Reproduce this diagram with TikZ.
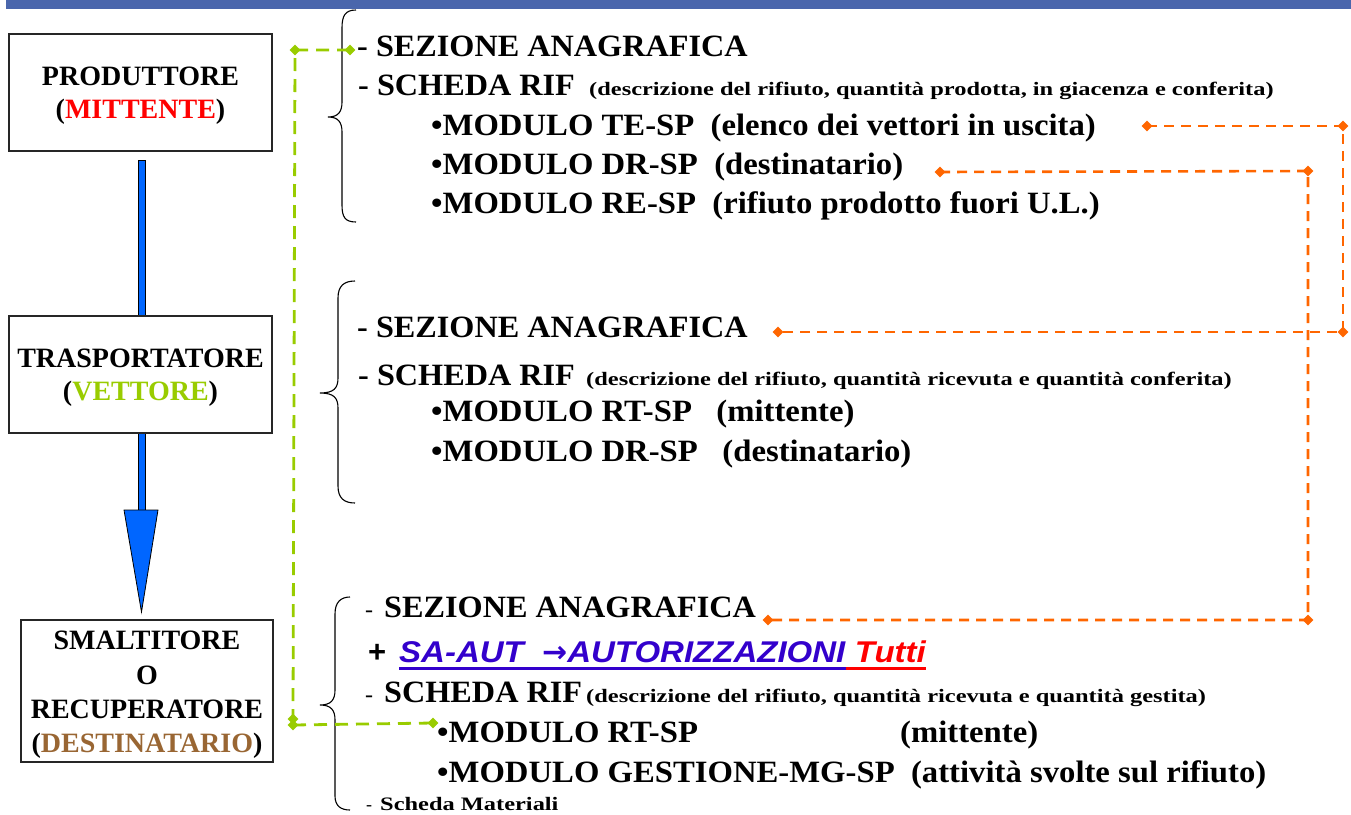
\documentclass[tikz,border=0pt]{standalone}
\usepackage{fontspec}
\setmainfont{Liberation Serif}
\setsansfont{Liberation Sans}
\newfontfamily\bigf[FakeStretch=1.04]{Liberation Serif}
\newfontfamily\midf[FakeStretch=1.055]{Liberation Serif}
\newfontfamily\smallf[FakeStretch=1.285]{Liberation Serif}
\newfontfamily\saf[FakeStretch=1.10]{Liberation Sans}
\newfontfamily\arrf{DejaVu Sans}
\usetikzlibrary{shapes.geometric,calc}
\definecolor{barblue}{HTML}{4A66AC}
\definecolor{arrblue}{HTML}{0066FF}
\definecolor{vgreen}{HTML}{99CC00}
\definecolor{dbrown}{HTML}{996633}
\definecolor{orng}{HTML}{FF6600}
\definecolor{sablue}{HTML}{3300CC}
\begin{document}
\begin{tikzpicture}[x=1pt,y=-1pt,
  actor/.style={draw=black!85,line width=1.3pt,fill=white,inner sep=0pt},
  actortext/.style={align=center,inner sep=0pt,font=\bfseries\fontsize{28}{33}\selectfont},
  big/.style={anchor=base west,inner sep=0pt,font=\bigf\bfseries\fontsize{31}{36}\selectfont},
  mid/.style={anchor=base west,inner sep=0pt,font=\midf\bfseries\fontsize{31}{36}\selectfont},
  small/.style={anchor=base west,inner sep=0pt,font=\smallf\bfseries\fontsize{19}{22}\selectfont},
  thin/.style={anchor=base west,inner sep=0pt,font=\fontsize{24}{28}\selectfont},
  satext/.style={anchor=base west,inner sep=0pt,font=\saf\bfseries\itshape\fontsize{30}{34}\selectfont},
  gdash/.style={vgreen,line width=2.8pt,dash pattern=on 13pt off 8pt},
  odash/.style={orng,line width=2.6pt,dash pattern=on 10pt off 7pt},
  gmark/.style={diamond,fill=vgreen,inner sep=0pt,minimum size=11pt},
  omark/.style={diamond,fill=orng,inner sep=0pt,minimum size=11pt},
  brace/.style={draw=black,line width=1.1pt}
]
\useasboundingbox (0,0) rectangle (1351,814);
% top bar
\fill[barblue] (6,0) rectangle (1351,9);

% blue arrow (behind boxes)
\filldraw[fill=arrblue,draw=black,line width=0.8pt] (138.5,160) rectangle (145,510);
\filldraw[fill=arrblue,draw=black,line width=0.8pt] (124,510) -- (158,510) -- (141.5,612) -- cycle;

% boxes
\node[actor,minimum width=263pt,minimum height=117pt] (prod) at (140.5,92.5) {};
\node[actortext] (prodt) at ([yshift=-3pt]prod.center) {PRODUTTORE\\({\color{red}MITTENTE})};
\node[actor,minimum width=263pt,minimum height=117pt] (trasp) at (140.5,374.5) {};
\node[actortext] (traspt) at ([yshift=-3pt]trasp.center) {TRASPORTATORE\\({\color{vgreen}VETTORE})};
\node[actor,minimum width=252pt,minimum height=142pt] (dest) at (147,691) {};
\node[actortext,font=\bfseries\fontsize{28}{34.3}\selectfont] (destt) at ([yshift=-4pt]dest.center)
  {SMALTITORE\\O\\RECUPERATORE\\({\color{dbrown}DESTINATARIO})};

% braces
\draw[brace] (356,10) .. controls (345,10) and (342,16) .. (342,28) -- (342,102)
  .. controls (342,112) and (338,117) .. (328,117)
  .. controls (338,117) and (342,122) .. (342,132) -- (342,205)
  .. controls (342,217) and (345,222) .. (356,222);
\draw[brace] (355,281) .. controls (344,281) and (338,286) .. (338,298) -- (338,378)
  .. controls (338,388) and (334,393) .. (320,393)
  .. controls (334,393) and (338,398) .. (338,408) -- (338,486)
  .. controls (338,498) and (344,503) .. (355,503);
\draw[brace] (350,597) .. controls (341,597) and (335,602) .. (335,614) -- (335,690)
  .. controls (335,700) and (331,705) .. (320,705)
  .. controls (331,705) and (335,710) .. (335,720) -- (335,796)
  .. controls (335,806) and (341,810) .. (350,810);

% section 1
\node[big] (s1a) at (357,56) {- SEZIONE ANAGRAFICA};
\node[big] (s1b) at (358,95) {- SCHEDA RIF};
\node[small] (s1bs) at (589,95) {(descrizione del rifiuto, quantità prodotta, in giacenza e conferita)};
\node[mid] (s1c) at (431,135) {•MODULO TE-SP\ \ (elenco dei vettori in uscita)};
\node[mid] (s1d) at (431,174) {•MODULO DR-SP\ \ (destinatario)};
\node[mid] (s1e) at (431,213) {•MODULO RE-SP\ \ (rifiuto prodotto fuori U.L.)};

% section 2
\node[big] (s2a) at (357,337) {- SEZIONE ANAGRAFICA};
\node[big] (s2b) at (358,385) {- SCHEDA RIF};
\node[small] (s2bs) at (586,385) {(descrizione del rifiuto, quantità ricevuta e quantità conferita)};
\node[mid] (s2c) at (431,421) {•MODULO RT-SP\ \ \ (mittente)};
\node[mid] (s2d) at (431,461) {•MODULO DR-SP\ \ \ (destinatario)};

% section 3
\node[thin] (s3ad) at (365,617) {-};
\node[big] (s3a) at (384,617) {SEZIONE ANAGRAFICA};
\node[anchor=base west,inner sep=0pt,font=\sffamily\bfseries\fontsize{31}{34}\selectfont] (plus) at (368,662) {+};
\node[satext,text=sablue] (sa) at (399,662) {SA-AUT\ \ {\arrf\bfseries\upshape →}AUTORIZZAZIONI};
\node[satext,text=red] (tutti) at (sa.base east) {\ Tutti\ };
\draw[sablue,line width=3pt] ([yshift=-6pt]sa.base west) -- ([yshift=-6pt]sa.base east);
\draw[red,line width=3pt] ([yshift=-6pt]tutti.base west) -- ([yshift=-6pt]tutti.base east);
\node[thin] (s3bd) at (365,702) {-};
\node[big] (s3b) at (384,702) {SCHEDA RIF};
\node[small] (s3bs) at (586,702) {(descrizione del rifiuto, quantità ricevuta e quantità gestita)};
\node[mid] (s3c) at (437,742) {•MODULO RT-SP};
\node[mid] (s3cm) at (900,742) {(mittente)};
\node[mid] (s3d) at (437,782) {•MODULO GESTIONE-MG-SP\ \ (attività svolte sul rifiuto)};
\node[anchor=base west,inner sep=0pt,font=\fontsize{18}{22}\selectfont] (s3ed) at (366,810) {-};
\node[small] (s3e) at (380,810) {Scheda Materiali};

% green connector
\node[gmark] (g1) at (350,50) {};
\node[gmark] (g2) at (295,50) {};
\node[gmark] (g3) at (293,719) {};
\node[gmark] (g4) at (293,725) {};
\node[gmark] (g5) at (433,723) {};
\draw[gdash] (g1.center) -- (g2.center) -- (g3.center);
\draw[gdash] (g4.center) -- (g5.center);

% orange connectors
\node[omark] (o1a) at (1147,126) {};
\node[omark] (o1b) at (1343,126) {};
\node[omark] (o1c) at (1343,332) {};
\node[omark] (o1d) at (778,332) {};
\draw[odash] (o1a.center) -- (o1b.center) -- (o1c.center) -- (o1d.center);
\node[omark] (o2a) at (940,172) {};
\node[omark] (o2b) at (1308,171) {};
\node[omark] (o2c) at (1308,620) {};
\node[omark] (o2d) at (768,620) {};
\draw[odash] (o2a.center) -- (o2b.center) -- (o2c.center) -- (o2d.center);
\end{tikzpicture}
\end{document}
